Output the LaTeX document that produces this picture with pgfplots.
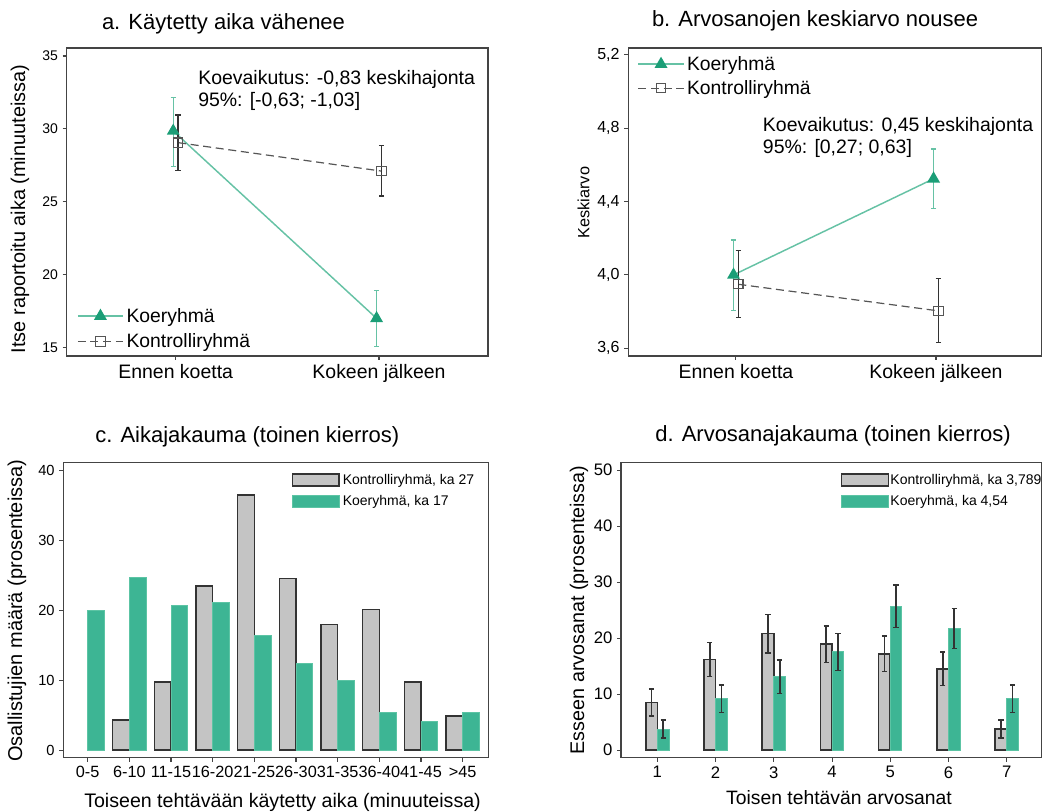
\documentclass[border=0pt]{standalone}
\usepackage{fontspec}
\setmainfont{Liberation Sans}
\usepackage{pgfplots}
\pgfplotsset{compat=1.18}
\definecolor{koeline}{HTML}{66C2A5}
\definecolor{koemark}{HTML}{1B9E77}
\definecolor{ctrl}{HTML}{555555}
\definecolor{bargreen}{HTML}{3DB594}
\definecolor{bargreenedge}{HTML}{5CC4A4}
\definecolor{bargray}{HTML}{C4C4C4}
\definecolor{baredge}{HTML}{333333}
\definecolor{axc}{HTML}{444444}
\newcommand{\fs}[1]{\fontsize{#1}{#1}\selectfont}
\pgfplotsset{
  base/.style={scale only axis, anchor=south west,
    axis line style={draw=axc, line width=0.9pt},
    tick style={draw=axc, line width=0.8pt},
    tick align=outside, major tick length=3pt,
    xtick pos=bottom, ytick pos=left,
    /pgf/number format/assume math mode=true, clip=false},
  lineleg/.style={legend image code/.code={\draw[mark repeat=2,mark phase=2,##1] plot coordinates {(0pt,0pt) (17pt,0pt) (34pt,0pt)};}},
  barleg/.style={legend image code/.code={\draw[##1] (0pt,-4.5pt) rectangle (35pt,4.5pt);}},
  errd/.style={forget plot, draw=none, mark=none,
    error bars/.cd, y dir=both, y explicit,
    error bar style={color=baredge, line width=1.3pt, solid},
    error mark options={rotate=90, mark size=2pt, line width=1.1pt, solid, color=baredge}},
}
\begin{document}
\begin{tikzpicture}
\path[use as bounding box] (0,0) rectangle (783.75pt,-609pt);

% ---------------- a ----------------
\begin{axis}[base, at={(50pt,-267pt)}, width=316pt, height=231pt,
  xmin=-0.536, xmax=1.536, ymin=14.43, ymax=35.55,
  xtick={0,1}, xticklabels={Ennen koetta,Kokeen jälkeen},
  xticklabel style={font=\fs{14.6}},
  ytick={15,20,25,30,35}, yticklabel style={font=\fs{10.5}},
  legend style={at={(0.024,0.165)}, anchor=north west, draw=none, fill=none,
    inner sep=0pt, font=\fs{14.5}, row sep=3pt}, legend cell align=left]
\addplot[lineleg, color=koeline, line width=1.1pt, mark=triangle*, mark size=4.5pt,
  mark options={fill=koemark, draw=koemark},
  error bars/.cd, y dir=both, y explicit,
  error bar style={color=koeline, line width=1pt},
  error mark options={rotate=90, mark size=2pt, line width=0.9pt, color=koeline}]
  coordinates {(-0.012,29.86) += (0,2.31) -= (0,2.46)
               (0.988,17.01) += (0,1.89) -= (0,1.91)};
\addlegendentry{Koeryhmä}
\addplot[lineleg, color=ctrl, line width=0.9pt, dash pattern=on 6pt off 3.5pt,
  mark=square, mark size=3.5pt, mark options={solid, fill=none, draw=ctrl, line width=0.8pt},
  error bars/.cd, y dir=both, y explicit,
  error bar style={color=baredge, line width=1pt, solid},
  error mark options={rotate=90, mark size=2pt, line width=0.9pt, solid, color=baredge}]
  coordinates {(0.012,29.06) += (0,1.89) -= (0,1.92)
               (1.012,27.11) += (0,1.74) -= (0,1.71)};
\addlegendentry{Kontrolliryhmä}
\end{axis}

% ---------------- b ----------------
\begin{axis}[base, at={(471.2pt,-267pt)}, width=310pt, height=231pt,
  xmin=-0.538, xmax=1.528, ymin=3.558, ymax=5.237,
  xtick={0,1}, xticklabels={Ennen koetta,Kokeen jälkeen},
  xticklabel style={font=\fs{14.6}},
  ytick={3.6,4.0,4.4,4.8,5.2}, yticklabels={{3,6},{4,0},{4,4},{4,8},{5,2}},
  yticklabel style={font=\fs{12}},
  legend style={at={(0.022,0.983)}, anchor=north west, draw=none, fill=none,
    inner sep=0pt, font=\fs{14.5}, row sep=2pt}, legend cell align=left]
\addplot[lineleg, color=koeline, line width=1.1pt, mark=triangle*, mark size=4.5pt,
  mark options={fill=koemark, draw=koemark},
  error bars/.cd, y dir=both, y explicit,
  error bar style={color=koeline, line width=1pt},
  error mark options={rotate=90, mark size=2pt, line width=0.9pt, color=koeline}]
  coordinates {(-0.012,4.0) += (0,0.19) -= (0,0.195)
               (0.988,4.524) += (0,0.162) -= (0,0.164)};
\addlegendentry{Koeryhmä}
\addplot[lineleg, color=ctrl, line width=0.9pt, dash pattern=on 6pt off 3.5pt,
  mark=square, mark size=3.5pt, mark options={solid, fill=none, draw=ctrl, line width=0.8pt},
  error bars/.cd, y dir=both, y explicit,
  error bar style={color=baredge, line width=1pt, solid},
  error mark options={rotate=90, mark size=2pt, line width=0.9pt, solid, color=baredge}]
  coordinates {(0.012,3.949) += (0,0.184) -= (0,0.18)
               (1.012,3.804) += (0,0.178) -= (0,0.173)};
\addlegendentry{Kontrolliryhmä}
\end{axis}

% ---------------- c ----------------
\begin{axis}[base, at={(47.5pt,-568.3pt)}, width=318.75pt, height=221.5pt,
  xmin=-0.584, xmax=9.616, ymin=-1.1, ymax=41.1,
  xtick={0,1,2,3,4,5,6,7,8,9},
  xticklabels={0-5,6-10,11-15,16-20,21-25,26-30,31-35,36-40,41-45,>45},
  xticklabel style={font=\fs{12.2}, inner xsep=0pt},
  ytick={0,10,20,30,40}, yticklabel style={font=\fs{11}},
  legend style={at={(0.537,0.97)}, anchor=north west, draw=none, fill=none,
    inner sep=0pt, font=\fs{10.5}, row sep=3pt, nodes={inner xsep=2pt}}, legend cell align=left]
\addplot[ybar, bar width=0.4, bar shift=-0.2, fill=bargray, draw=baredge, line width=1.2pt, barleg]
  coordinates {(1,4.29) (2,9.76) (3,23.4) (4,36.4) (5,24.5) (6,17.95) (7,20.1) (8,9.76) (9,4.9)};
\addlegendentry{Kontrolliryhmä, ka 27}
\addplot[ybar, bar width=0.4, bar shift=0.2, fill=bargreen, draw=bargreenedge, line width=0.7pt, barleg]
  coordinates {(0,20.0) (1,24.7) (2,20.6) (3,21.1) (4,16.4) (5,12.4) (6,10.0) (7,5.33) (8,4.1) (9,5.33)};
\addlegendentry{Koeryhmä, ka 17}
\end{axis}

% ---------------- d ----------------
\begin{axis}[base, at={(465.75pt,-568.3pt)}, width=315.5pt, height=221.5pt,
  xmin=0.376, xmax=7.6, ymin=-1.375, ymax=51.4,
  xtick={1,2,3,4,5,6,7}, xticklabel style={font=\fs{12.5}},
  ytick={0,10,20,30,40,50}, yticklabel style={font=\fs{12.5}},
  legend style={at={(0.522,0.97)}, anchor=north west, draw=none, fill=none,
    inner sep=0pt, font=\fs{10.5}, row sep=3pt, nodes={inner xsep=1pt}}, legend cell align=left]
\addplot[ybar, bar width=0.2, bar shift=-0.1, fill=bargray, draw=baredge, line width=1.2pt, barleg]
  coordinates {(1,8.5) (2,16.2) (3,20.8) (4,18.9) (5,17.2) (6,14.5) (7,3.75)};
\addlegendentry{Kontrolliryhmä, ka 3,789}
\addplot[ybar, bar width=0.2, bar shift=0.1, fill=bargreen, draw=bargreenedge, line width=0.7pt, barleg]
  coordinates {(1,3.75) (2,9.2) (3,13.1) (4,17.56) (5,25.7) (6,21.7) (7,9.2)};
\addlegendentry{Koeryhmä, ka 4,54}
\addplot[errd] coordinates {(0.9,8.5) +- (0,2.4) (1.9,16.2) +- (0,3.05) (2.9,20.8) +- (0,3.45)
               (3.9,18.9) +- (0,3.3) (4.9,17.2) +- (0,3.15) (5.9,14.5) +- (0,3.0) (6.9,3.75) +- (0,1.6)};
\addplot[errd] coordinates {(1.1,3.75) +- (0,1.6) (2.1,9.2) +- (0,2.45) (3.1,13.1) +- (0,2.95)
               (4.1,17.56) +- (0,3.3) (5.1,25.7) +- (0,3.8) (6.1,21.7) +- (0,3.6) (7.1,9.2) +- (0,2.45)};
\end{axis}

% ---------------- texts ----------------
\node[anchor=base west, inner sep=0pt, font=\fs{16.5}] at (76.3pt,-22pt) {a. Käytetty aika vähenee};
\node[anchor=base west, inner sep=0pt, font=\fs{16.5}] at (488.8pt,-20pt) {b. Arvosanojen keskiarvo nousee};
\node[anchor=base west, inner sep=0pt, font=\fs{16.5}] at (71.25pt,-332pt) {c. Aikajakauma (toinen kierros)};
\node[anchor=base west, inner sep=0pt, font=\fs{16.5}] at (491.25pt,-331.3pt) {d. Arvosanajakauma (toinen kierros)};

\node[rotate=90, inner sep=0pt, font=\fs{14.9}] at (15pt,-156.75pt) {Itse raportoitu aika (minuuteissa)};
\node[rotate=90, inner sep=0pt, font=\fs{12.2}] at (437.6pt,-151.9pt) {Keskiarvo};
\node[rotate=90, inner sep=0pt, font=\fs{15}] at (12.75pt,-458.1pt) {Osallistujien määrä (prosenteissa)};
\node[rotate=90, inner sep=0pt, font=\fs{14.8}] at (434.25pt,-457.5pt) {Esseen arvosanat (prosenteissa)};
\node[anchor=base, inner sep=0pt, font=\fs{14.7}] at (211.9pt,-605.6pt) {Toiseen tehtävään käytetty aika (minuuteissa)};
\node[anchor=base, inner sep=0pt, font=\fs{14.5}] at (629.25pt,-603.4pt) {Toisen tehtävän arvosanat};

\node[anchor=base west, inner sep=0pt, font=\fs{14.6}] at (148.5pt,-63.5pt) {Koevaikutus: -0,83 keskihajonta};
\node[anchor=base west, inner sep=0pt, font=\fs{14.6}] at (148.5pt,-80pt) {95\%: [-0,63; -1,03]};
\node[anchor=base west, inner sep=0pt, font=\fs{14.6}] at (572pt,-98.6pt) {Koevaikutus: 0,45 keskihajonta};
\node[anchor=base west, inner sep=0pt, font=\fs{14.6}] at (572pt,-115.5pt) {95\%: [0,27; 0,63]};
\end{tikzpicture}
\end{document}
